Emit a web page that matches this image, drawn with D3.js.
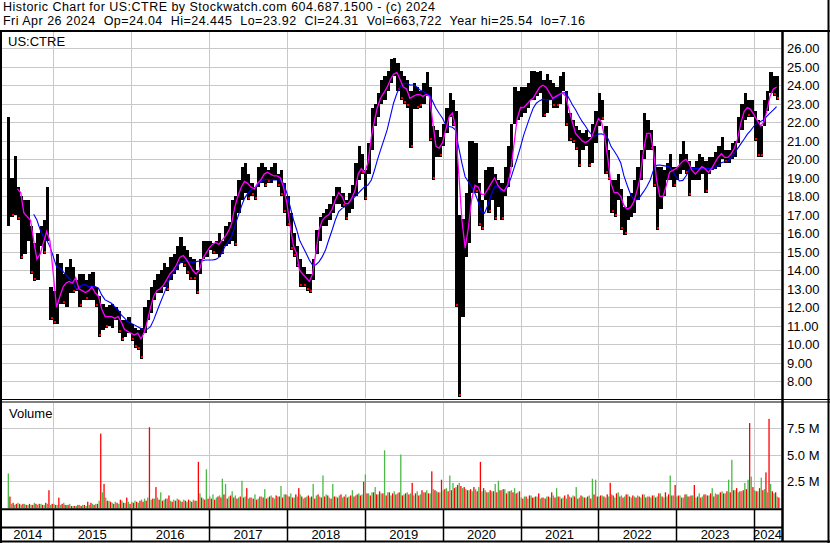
<!DOCTYPE html>
<html>
<head>
<meta charset="utf-8">
<script src="https://cdn.jsdelivr.net/npm/d3@7"></script>
<style>
  body { margin: 0; background: #fff; }
  svg text { font-family: "Liberation Sans", Arial, sans-serif; font-size: 13px; fill: #000; }
  svg text.title { font-size: 12.5px; white-space: pre; }
</style>
</head>
<body>
<svg id="chart" width="830" height="543"></svg>
<script>
// ---- data: half-month periods from Jun 2014 to Apr 2024 (one row per year) ----
const titleLine1 = "Historic Chart for US:CTRE by Stockwatch.com 604.687.1500 - (c) 2024";
const titleLine2 = "Fri Apr 26 2024  Op=24.04  Hi=24.445  Lo=23.92  Cl=24.31  Vol=663,722  Year hi=25.54  lo=7.16";
const symbol = "US:CTRE";
const years = [2014, 2015, 2016, 2017, 2018, 2019, 2020, 2021, 2022, 2023, 2024];
const priceTicks = [8, 9, 10, 11, 12, 13, 14, 15, 16, 17, 18, 19, 20, 21, 22, 23, 24, 25, 26];
const volumeTicks = [2.5, 5, 7.5];

const priceHigh = [
  22.3,19.0,20.2,18.5,18.0,17.8,17.8,16.4,15.5,16.0,16.4,16.7,18.5,13.1,
  12.9,14.9,14.4,13.8,14.2,14.6,14.2,13.5,13.8,13.8,13.5,13.8,13.9,13.1,12.6,12.2,12.0,12.1,12.2,12.0,11.8,11.3,11.3,11.5,
  11.1,10.9,10.8,10.9,12.0,12.4,13.1,13.5,13.8,14.0,14.4,14.2,14.7,14.9,15.3,15.8,15.3,15.1,14.7,14.6,14.0,14.6,15.6,15.6,
  15.6,15.5,15.6,16.0,15.6,16.4,16.6,17.8,18.0,18.9,19.6,19.8,19.2,18.7,18.5,19.6,19.8,19.6,19.4,19.6,19.8,19.2,19.4,18.7,
  18.0,17.1,16.0,15.3,14.6,14.2,13.8,13.8,14.6,16.2,16.9,17.1,17.3,17.6,18.0,18.5,18.5,18.2,17.8,18.2,18.6,19.8,20.7,20.3,
  19.4,20.9,22.8,23.0,23.6,24.3,24.5,24.8,25.4,25.5,25.2,24.8,24.5,24.3,23.7,24.1,23.9,23.7,24.1,24.7,23.9,21.8,21.6,21.2,
  21.9,22.8,23.6,23.2,22.6,17.0,16.8,18.2,21.0,21.0,20.9,18.7,17.8,19.4,19.6,19.6,19.2,18.9,18.7,19.6,20.7,21.9,23.9,23.7,
  23.9,23.9,24.1,24.8,24.8,24.7,24.8,24.3,24.6,24.3,24.1,23.9,24.5,24.7,23.7,22.5,22.1,21.8,21.6,21.4,21.6,21.2,21.9,22.6,
  23.6,23.2,21.8,20.5,18.9,18.9,19.2,18.4,17.4,18.0,18.2,18.9,19.6,20.5,22.5,22.1,21.6,20.7,19.6,19.6,19.4,19.8,20.3,19.6,
  19.6,20.3,21.0,20.3,19.9,19.6,19.9,20.3,20.1,19.9,20.1,20.1,20.4,20.7,21.2,20.5,20.5,20.9,21.0,22.3,23.0,23.6,23.2,23.2,
  22.6,22.1,21.8,23.2,23.7,24.7,24.5,24.5
];
const priceLow = [
  16.4,16.9,17.0,16.7,14.6,14.9,15.6,13.8,13.4,13.5,15.3,14.9,15.6,11.3,
  11.1,11.1,12.2,12.2,12.0,12.8,12.8,12.9,12.0,12.4,12.4,12.4,12.4,12.0,10.4,10.8,10.9,11.0,10.9,11.3,10.6,10.2,10.4,10.6,
  10.2,9.8,9.7,9.2,10.6,11.3,11.7,12.4,12.8,12.8,13.1,12.9,13.5,13.8,14.0,14.4,14.2,13.8,13.5,13.5,12.7,13.8,14.6,14.7,
  15.1,14.9,14.9,14.7,14.9,15.3,15.4,15.6,15.3,17.1,17.8,18.2,17.8,18.0,17.8,18.5,18.7,18.5,18.7,18.7,18.9,18.5,18.0,17.1,
  16.4,15.1,14.7,14.2,13.1,13.1,12.9,12.8,13.5,14.9,15.6,16.4,16.4,16.7,17.1,17.6,17.6,17.4,16.7,17.1,17.3,18.0,18.9,19.2,
  17.8,19.2,20.5,21.8,22.3,23.0,23.2,23.7,24.1,24.5,23.7,23.2,23.0,22.8,20.6,22.7,22.7,22.8,23.0,23.4,21.0,18.9,20.1,20.1,
  20.7,21.4,22.3,21.8,12.0,7.16,11.5,14.7,15.5,18.2,18.2,16.4,16.2,17.8,17.1,17.8,16.7,17.4,16.7,18.0,18.5,19.6,21.9,22.1,
  22.3,22.5,22.8,23.2,23.2,23.4,23.6,22.3,22.5,23.2,22.8,22.8,23.0,23.7,21.8,21.0,20.9,20.5,19.6,20.5,20.7,19.6,19.8,20.9,
  21.8,22.1,19.2,18.9,17.1,16.9,17.8,16.2,15.9,16.7,16.9,17.1,17.8,18.9,20.0,20.5,20.5,18.5,16.2,17.3,18.0,18.9,18.9,18.5,
  18.9,19.2,19.4,19.2,18.0,18.9,18.9,18.9,19.2,18.2,19.2,19.4,19.5,19.6,20.0,19.8,19.8,20.0,20.1,20.9,21.6,22.1,22.3,22.3,
  21.0,20.1,20.1,21.8,22.6,23.6,23.4,23.2
];

// short moving average (magenta), starts at period 3
const maFastStart = 3;
const maFast = [
  18.4,18.2,17.1,16.9,16.7,15.6,14.6,14.9,15.5,16.1,15.6,
  13.8,12.0,12.6,13.1,13.3,13.4,13.3,13.6,13.0,12.9,12.8,12.9,13.1,12.8,12.6,11.9,11.5,11.5,11.5,11.4,11.5,11.2,10.8,10.7,
  10.6,10.5,10.6,10.3,10.6,11.2,12.0,12.6,12.9,13.0,13.2,13.5,13.8,14.0,14.3,14.7,14.8,14.6,14.3,14.0,13.8,14.0,14.6,14.9,
  15.2,15.4,15.5,15.4,15.6,15.8,16.1,16.5,17.4,18.0,18.5,18.8,18.7,18.5,18.4,18.7,18.9,19.2,19.3,19.2,19.1,19.1,19.0,18.5,
  17.6,16.4,15.3,14.9,14.0,13.8,13.6,13.4,13.8,14.9,16.2,16.7,16.9,17.0,17.3,17.8,18.2,18.0,17.6,17.6,17.9,18.3,19.2,19.5,
  19.3,19.8,21.2,22.1,22.8,23.3,23.6,23.9,24.3,24.6,24.7,24.3,23.9,23.8,23.3,23.4,23.5,23.5,23.4,23.5,23.4,22.0,20.7,20.6,
  20.9,21.6,22.3,22.5,21.8,19.4,16.7,15.2,16.3,17.8,18.6,18.5,18.1,18.1,18.4,18.7,19.0,18.6,18.4,18.3,18.6,19.4,20.8,22.2,
  22.8,22.8,23.0,23.2,23.3,23.6,23.9,24.0,23.9,23.6,23.3,23.4,23.5,23.6,23.4,22.7,22.0,21.4,21.2,21.0,20.9,21.0,21.2,21.7,
  22.2,22.0,21.1,19.9,18.7,18.2,18.2,18.0,17.5,17.3,17.4,17.7,18.3,19.0,20.5,21.4,21.4,20.5,18.9,18.0,18.0,18.6,19.3,19.4,
  19.5,19.7,19.9,20.0,19.8,19.4,19.2,19.4,19.6,19.5,19.3,19.5,19.8,20.1,20.3,20.1,20.1,20.3,20.6,21.1,22.0,22.6,22.8,22.7,
  22.4,22.1,21.8,22.0,22.6,23.4,23.8,23.9
];

// long moving average (blue), starts at period 8
const maSlowStart = 8;
const maSlow = [
  17.03,16.72,16.18,15.82,15.64,15.28,
  14.74,14.20,14.11,13.93,13.75,13.57,13.39,13.03,13.03,13.21,13.21,13.12,13.12,13.12,13.03,12.67,12.40,12.31,12.22,12.04,11.86,11.59,11.41,11.23,
  11.14,11.05,10.95,10.86,10.77,10.81,10.95,11.32,11.77,12.22,12.67,13.12,13.57,13.84,14.11,14.38,14.47,14.52,14.47,14.43,14.47,14.50,14.52,14.56,
  14.56,14.56,14.59,14.70,14.92,15.28,15.55,15.82,16.36,16.90,17.44,17.89,18.16,18.34,18.43,18.61,18.79,18.88,18.92,18.88,18.88,18.88,18.88,18.70,
  18.16,17.44,16.72,16.18,15.64,15.28,14.92,14.56,14.29,14.29,14.47,14.74,15.10,15.64,16.18,16.72,17.17,17.35,17.44,17.62,17.80,17.98,18.16,18.34,
  18.52,18.61,18.88,19.42,19.96,20.50,21.05,21.59,22.31,23.03,23.57,23.93,24.11,24.11,24.02,24.02,23.93,23.75,23.66,23.57,23.48,23.12,22.76,22.49,
  22.22,21.86,21.77,21.73,21.59,20.68,19.78,19.06,18.79,18.52,18.16,17.71,17.17,17.08,17.53,18.07,18.52,18.56,18.30,18.25,18.52,18.97,19.51,20.05,
  20.68,21.32,21.86,22.36,22.76,23.03,23.17,23.25,23.21,23.22,23.24,23.35,23.45,23.58,23.60,23.30,22.95,22.68,22.35,22.06,21.80,21.53,21.32,21.27,
  21.36,21.38,21.30,21.10,20.70,20.45,20.15,19.80,19.10,18.60,18.10,17.80,17.82,17.98,18.25,18.52,18.88,19.40,19.68,19.69,19.66,19.63,19.58,19.36,
  19.05,18.83,18.86,19.10,19.40,19.51,19.51,19.51,19.51,19.51,19.51,19.51,19.53,19.65,19.82,19.87,19.90,20.10,20.30,20.58,20.85,21.10,21.36,21.55,
  21.80,21.96,22.04,22.14,22.32,22.50,22.67,22.85
];

// peak volume (millions) on up days and down days in each period
const volUp = [
  3.2,0.3,0.2,0.4,0.2,0.3,0.2,0.2,0.4,0.2,0.3,0.2,0.3,0.2,
  0.3,0.2,0.2,0.4,0.2,0.3,0.1,0.1,0.2,0.2,0.1,0.2,0.3,0.3,0.6,1.4,0.9,0.6,0.4,0.5,0.3,0.6,0.4,0.5,
  0.5,0.6,0.4,0.7,0.8,0.9,0.7,0.8,0.9,1.4,0.7,0.8,0.6,0.7,0.8,0.6,0.7,0.5,0.6,0.7,0.6,1.3,0.8,3.6,
  1.0,1.2,0.9,1.1,2.7,2.2,1.0,1.5,1.1,0.9,2.5,1.0,0.8,0.9,1.2,0.8,1.0,1.7,0.9,1.1,0.8,1.0,2.0,1.2,
  1.1,1.3,0.9,1.0,1.2,0.8,1.0,0.9,2.2,1.1,1.0,3.0,1.2,0.9,2.2,1.0,1.1,0.9,1.2,1.0,1.6,1.1,1.3,1.2,
  3.1,1.3,1.4,1.9,1.2,1.3,5.4,1.4,1.1,1.5,1.3,5.0,1.2,1.4,1.3,1.1,1.5,1.2,1.4,1.6,1.3,1.7,1.5,1.4,
  1.6,1.8,3.0,2.3,1.9,2.3,1.8,1.7,1.6,1.5,1.7,1.9,1.5,1.6,1.4,1.5,2.2,2.5,1.6,1.7,1.5,1.6,1.8,1.4,
  0.9,1.0,0.8,1.1,0.9,1.0,0.8,0.9,1.0,0.9,1.1,1.8,1.0,0.9,0.8,1.0,1.1,1.9,0.9,1.0,0.9,1.1,2.7,2.6,
  1.0,1.1,0.9,1.0,1.2,0.9,1.4,1.1,1.0,1.2,0.9,1.0,1.1,0.9,1.2,1.0,0.9,1.1,1.0,1.3,0.9,1.0,3.0,1.1,
  1.0,1.1,0.9,1.2,1.0,1.1,0.9,1.3,1.0,1.2,1.1,1.8,1.3,1.2,1.5,1.3,2.6,4.5,1.6,1.4,1.5,2.3,2.6,2.9,
  1.6,1.5,2.8,1.7,1.4,2.2,1.3,1.0
];
const volDown = [
  1.0,0.4,0.3,0.3,0.3,0.2,0.3,0.2,0.3,0.3,0.2,0.4,1.6,0.3,
  0.2,0.9,0.3,0.2,0.2,0.1,0.1,0.2,0.1,0.2,0.5,0.4,0.2,0.3,7.0,2.2,0.6,0.5,0.3,0.4,0.7,0.4,0.9,0.3,
  0.4,0.5,0.6,0.5,0.6,7.6,0.8,1.9,0.7,0.6,0.8,1.1,0.5,0.6,0.7,0.5,0.6,0.7,0.5,0.6,4.3,0.9,0.7,0.8,
  0.8,0.7,1.0,0.9,1.2,0.8,1.1,0.9,0.8,1.0,0.9,1.8,0.9,0.8,0.7,1.0,0.9,0.8,1.0,0.9,1.1,1.0,0.9,1.2,
  1.0,0.9,1.2,1.8,1.0,0.9,1.1,1.0,0.8,1.2,0.9,1.0,1.1,0.8,1.0,0.9,1.2,1.0,0.9,1.1,1.0,1.2,1.1,2.4,
  1.3,1.1,1.4,1.2,1.5,1.3,1.1,1.4,1.3,1.2,1.4,1.1,1.3,1.2,2.3,1.3,1.1,1.6,1.4,1.3,3.4,1.6,1.4,2.6,
  1.7,1.5,1.6,1.8,2.1,2.0,1.9,1.6,1.7,1.9,1.5,4.3,1.8,1.4,1.6,1.5,1.4,1.6,1.7,1.3,1.5,1.4,1.3,1.5,
  0.8,1.0,1.1,0.9,1.0,1.3,0.9,0.8,1.0,1.4,0.9,1.0,0.8,1.1,1.2,0.9,1.0,0.8,1.1,0.9,1.0,0.8,1.2,1.0,
  1.1,1.0,1.2,2.3,1.1,1.3,1.0,0.9,1.2,1.0,1.1,0.9,1.0,1.2,0.9,1.0,1.1,0.9,1.3,1.0,1.4,1.2,1.1,2.1,
  1.1,0.9,1.2,1.0,1.1,2.1,1.0,0.9,1.2,1.1,1.3,1.0,1.2,1.4,1.3,1.5,1.4,1.6,1.8,1.5,1.6,1.7,8.0,1.9,
  1.5,1.8,1.6,3.3,8.4,1.5,1.4,0.9
];

// ---- layout ----
const plotL = 2, plotR = 781;
const priceTop = 32, priceBot = 398.5;
const volTop = 403, volBot = 508.5;
const gridColor = "#c8c8c8";

// period start dates: 1st and 16th of each month from June 2014
const dates = d3.range(priceHigh.length + 1)
  .map(i => new Date(2014, 5 + Math.floor(i / 2), i % 2 ? 16 : 1));

const x = d3.scaleTime()
  .domain([new Date(2015, 0, 1), new Date(2024, 0, 1)])
  .range([53.3, 754]);
const yP = d3.scaleLinear().domain([8, 26]).range([381.3, 48.3]);
const yV = d3.scaleLinear().domain([0, 7.5]).range([507, 428.3]);

const svg = d3.select("#chart");
svg.append("rect").attr("width", 830).attr("height", 543).attr("fill", "#fff");

const defs = svg.append("defs");
defs.append("clipPath").attr("id", "clipPrice").append("rect")
  .attr("x", plotL).attr("y", priceTop).attr("width", plotR - plotL).attr("height", priceBot - priceTop);
defs.append("clipPath").attr("id", "clipVol").append("rect")
  .attr("x", plotL).attr("y", volTop).attr("width", plotR - plotL).attr("height", volBot - volTop);

// title (stretched to the width it takes in the original)
svg.append("text").attr("class", "title").attr("x", 3).attr("y", 10.5)
  .attr("textLength", 432).attr("lengthAdjust", "spacing").text(titleLine1);
svg.append("text").attr("class", "title").attr("x", 3).attr("y", 25)
  .attr("textLength", 582).attr("lengthAdjust", "spacing").text(titleLine2);

const yearStarts = years.slice(1).map(y => new Date(y, 0, 1));

// ---- grid ----
const grid = svg.append("g").attr("stroke", gridColor).attr("stroke-width", 1);
grid.selectAll("line.hp").data(priceTicks).join("line")
  .attr("x1", plotL).attr("x2", plotR)
  .attr("y1", d => Math.round(yP(d)) + 0.5).attr("y2", d => Math.round(yP(d)) + 0.5);
grid.selectAll("line.hv").data(volumeTicks).join("line")
  .attr("x1", plotL).attr("x2", plotR)
  .attr("y1", d => Math.round(yV(d)) + 0.5).attr("y2", d => Math.round(yV(d)) + 0.5);
grid.selectAll("line.vp").data(yearStarts).join("line")
  .attr("x1", d => Math.round(x(d)) + 0.5).attr("x2", d => Math.round(x(d)) + 0.5)
  .attr("y1", priceTop).attr("y2", priceBot);
grid.selectAll("line.vv").data(yearStarts).join("line")
  .attr("x1", d => Math.round(x(d)) + 0.5).attr("x2", d => Math.round(x(d)) + 0.5)
  .attr("y1", volTop).attr("y2", volBot);

// ---- price bars ----
const bars = priceHigh.map((h, i) => ({
  i, h, l: priceLow[i], x0: Math.floor(x(dates[i])), x1: Math.floor(x(dates[i + 1]))
}));
const gPrice = svg.append("g").attr("clip-path", "url(#clipPrice)");
gPrice.selectAll("rect.bar").data(bars).join("rect")
  .attr("class", "bar")
  .attr("x", d => d.x0)
  .attr("width", d => d.x1 - d.x0)
  .attr("y", d => yP(d.h))
  .attr("height", d => Math.max(1, yP(d.l) - yP(d.h)))
  .attr("fill", "#000")
  .attr("shape-rendering", "crispEdges");

// red marks on periods that closed lower than the previous one
const downBars = bars.filter(d => d.i > 0 && d.h + d.l < priceHigh[d.i - 1] + priceLow[d.i - 1]);
gPrice.selectAll("rect.down").data(downBars).join("rect")
  .attr("class", "down")
  .attr("x", d => d.x1 - 2)
  .attr("width", 2)
  .attr("y", d => Math.round(yP(d.l)) - 3)
  .attr("height", 2)
  .attr("fill", "#ff0000")
  .attr("shape-rendering", "crispEdges");

// moving averages
const line = d3.line().x(d => x(d[0])).y(d => yP(d[1]));
gPrice.append("path")
  .datum(maSlow.map((v, k) => [dates[k + maSlowStart], v]))
  .attr("d", line).attr("fill", "none").attr("stroke", "#0000ff").attr("stroke-width", 1.1);
gPrice.append("path")
  .datum(maFast.map((v, k) => [dates[k + maFastStart], v]))
  .attr("d", line).attr("fill", "none").attr("stroke", "#ff00ff").attr("stroke-width", 1.3);

// ---- volume bars (thin, like daily bars), drawn period by period ----
const volBars = [];
volUp.forEach((u, i) => {
  const x0 = x(dates[i]), w = x(dates[i + 1]) - x0;
  volBars.push({ x: x0, v: u, c: "#4cb848" });
  volBars.push({ x: x0 + w / 2, v: volDown[i], c: "#ff0000" });
});
const gVol = svg.append("g").attr("clip-path", "url(#clipVol)");
gVol.selectAll("rect.vb").data(volBars).join("rect")
  .attr("class", "vb")
  .attr("x", d => d.x)
  .attr("width", 1.3)
  .attr("y", d => yV(d.v))
  .attr("height", d => volBot - yV(d.v))
  .attr("fill", d => d.c);

// ---- axis labels ----
svg.selectAll("text.pl").data(priceTicks).join("text")
  .attr("class", "pl").attr("x", 787).attr("y", d => yP(d) + 5)
  .text(d => d3.format(".2f")(d));
svg.selectAll("text.vl").data(volumeTicks).join("text")
  .attr("class", "vl").attr("x", 787).attr("y", d => yV(d) + 5)
  .text(d => d3.format(".1f")(d) + " M");

svg.append("text").attr("x", 8).attr("y", 46).text(symbol);
svg.append("text").attr("x", 9).attr("y", 418).text("Volume");

// year cells along the bottom
const cells = years.map(y => ({
  y,
  a: Math.max(plotL, x(new Date(y, 0, 1))),
  b: Math.min(plotR, x(new Date(y + 1, 0, 1)))
}));
svg.selectAll("text.yr").data(cells).join("text")
  .attr("class", "yr")
  .attr("x", d => (d.a + d.b) / 2).attr("y", 538.5)
  .attr("text-anchor", "middle")
  .text(d => d.y);

// ---- frame ----
const frame = svg.append("g").attr("stroke", "#000").attr("fill", "none");
frame.append("line").attr("x1", 0).attr("x2", 830).attr("y1", 31).attr("y2", 31).attr("stroke-width", 2);
frame.append("line").attr("x1", 1).attr("x2", 1).attr("y1", 31).attr("y2", 543).attr("stroke-width", 2);
frame.append("line").attr("x1", 828.5).attr("x2", 828.5).attr("y1", 0).attr("y2", 543).attr("stroke-width", 2);
frame.append("line").attr("x1", 782.5).attr("x2", 782.5).attr("y1", 31).attr("y2", 542).attr("stroke-width", 2.5);
frame.append("line").attr("x1", 0).attr("x2", 830).attr("y1", 399.5).attr("y2", 399.5).attr("stroke-width", 1);
frame.append("line").attr("x1", 0).attr("x2", 830).attr("y1", 402).attr("y2", 402).attr("stroke-width", 1);
frame.append("line").attr("x1", 0).attr("x2", 783).attr("y1", 509.3).attr("y2", 509.3).attr("stroke-width", 2);
frame.append("line").attr("x1", 0).attr("x2", 783).attr("y1", 527.5).attr("y2", 527.5).attr("stroke-width", 2);
frame.append("line").attr("x1", 0).attr("x2", 830).attr("y1", 541.5).attr("y2", 541.5).attr("stroke-width", 2);
frame.selectAll("line.yd").data(yearStarts).join("line")
  .attr("x1", d => Math.round(x(d)) + 0.5).attr("x2", d => Math.round(x(d)) + 0.5)
  .attr("y1", 510).attr("y2", 541).attr("stroke-width", 1.5);
</script>
</body>
</html>
